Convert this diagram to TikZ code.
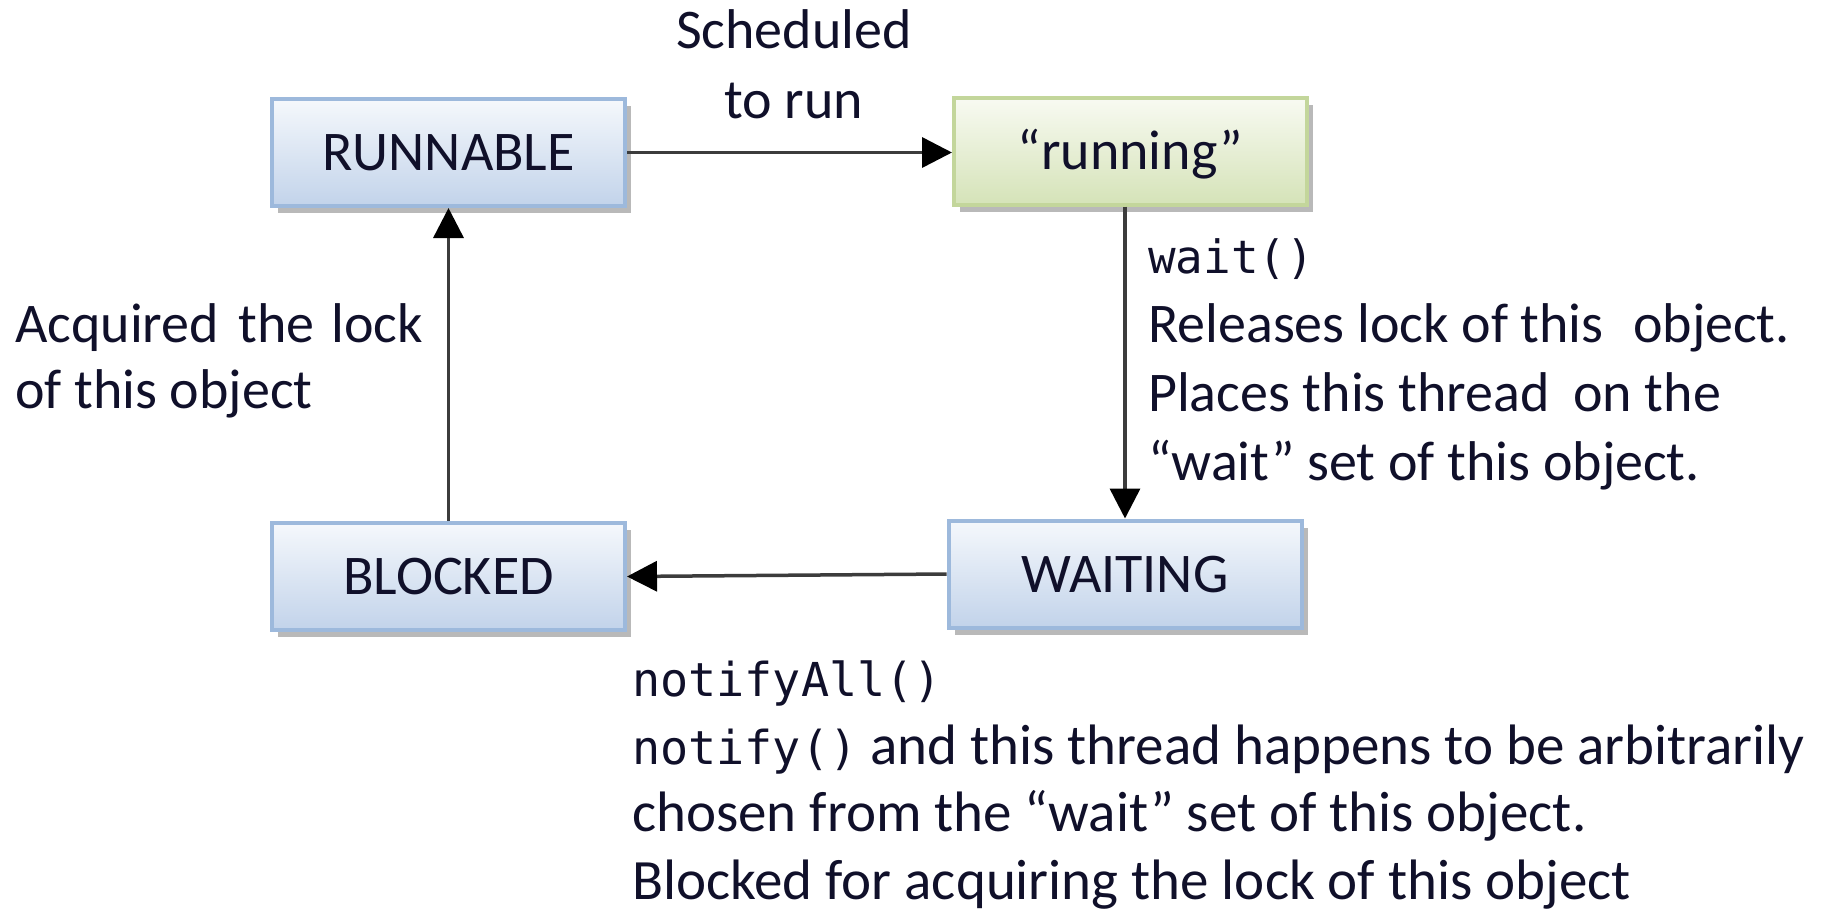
\documentclass[tikz,border=0pt]{standalone}
\usepackage{fontspec}
\setmainfont{Carlito}
\newfontfamily\codefont[Scale=0.82]{DejaVu Sans Mono}
\usetikzlibrary{arrows.meta,shadows}

\definecolor{bluetop}{HTML}{F5F8FC}
\definecolor{bluebot}{HTML}{C2D3EA}
\definecolor{blueedge}{HTML}{9DB9DC}
\definecolor{greentop}{HTML}{F8FAF2}
\definecolor{greenbot}{HTML}{D5E3B8}
\definecolor{greenedge}{HTML}{C3D69B}
\definecolor{txt}{HTML}{10102A}
\definecolor{linegray}{HTML}{3C3C3C}

\begin{document}
\begin{tikzpicture}[x=1pt,y=-1pt,
  state/.style={rectangle, minimum width=353pt, minimum height=107pt,
    line width=4pt, inner sep=0pt, text=txt,
    font=\fontsize{56}{66}\selectfont, text height=36pt, text depth=0pt,
    drop shadow={shadow xshift=6pt, shadow yshift=-7pt, fill=black!50, opacity=0.55}},
  bluestate/.style={state, top color=bluetop, bottom color=bluebot, draw=blueedge},
  greenstate/.style={state, top color=greentop, bottom color=greenbot, draw=greenedge},
  flow/.style={line width=3.5pt, draw=linegray,
    -{Triangle[length=30pt,width=30pt,color=black]}},
  lbl/.style={inner sep=0pt, text=txt, align=left, anchor=base west},
]
\useasboundingbox (0,0) rectangle (1831,914);

% states
\node[bluestate]  (runnable) at (448.5,152.5) {RUNNABLE};
\node[greenstate] (running)  at (1130.5,151)  {“running”};
\node[bluestate]  (blocked)  at (448.5,576.5) {BLOCKED};
\node[bluestate]  (waiting)  at (1125,574)    {WAITING};

% transitions
\draw[flow] (runnable.east) -- (running.west |- runnable.east);
\draw[flow] (waiting.north |- running.south) -- (waiting.north);
\draw[flow] (waiting.west) -- (blocked.east);
\draw[flow] (blocked.north) -- (runnable.south);

% transition labels (a multi-line node's base is its last baseline)
\node[lbl, align=center, anchor=base, font=\fontsize{56}{70}\selectfont]
  (sched) at (794,118) {Scheduled\\to run};
\node[lbl, font=\fontsize{56}{66}\selectfont]
  (acq) at (15,408) {Acquired\hspace{.12em} the\hspace{.08em} lock\\of this object};
\node[lbl, font=\fontsize{56}{69}\selectfont]
  (waitlbl) at (1148,480) {{\codefont wait()}\\Releases lock of this\hspace{.3em} object.\\Places this thread\hspace{.2em} on the\\“wait” set of this object.};
\node[lbl, font=\fontsize{57}{67.5}\selectfont]
  (notifylbl) at (632,899) {{\codefont notifyAll()}\\{\codefont notify()} and this thread happens to be arbitrarily\\chosen from the “wait” set of this object.\\Blocked for acquiring the lock of this object};
\end{tikzpicture}
\end{document}
